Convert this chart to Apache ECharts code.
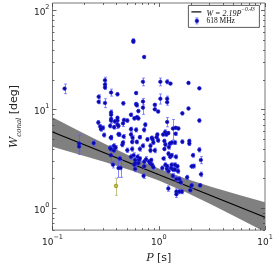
<!DOCTYPE html>
<html><head><meta charset="utf-8">
<script src="https://cdn.jsdelivr.net/npm/echarts@6/dist/echarts.min.js"></script>
<style>html,body{margin:0;padding:0;background:#fff}#c{width:276px;height:269px}</style>
</head><body><div id="c"></div>
<script>
// ---- data: [period, width, error] ----
const pts = [
[0.130,16.2,1.8],[0.178,4.5,1.0],[0.178,4.2,0.4],[0.244,4.55,0.3],
[0.27,7.35,0.35],[0.272,13.4,0.6],[0.272,11.9,0.5],[0.281,6.7,0.3],[0.298,6.5,0.3],[0.286,6.3,0.3],
[0.306,5.5,0.25],[0.312,19.7,1.4],[0.312,17.8,0.8],[0.312,16.6,0.7],[0.312,11.6,1.2],
[0.349,6.8,0.3],[0.349,4.06,0.25],[0.354,5.15,0.25],[0.354,3.97,0.2],[0.354,3.43,0.6],
[0.356,14.8,1.2],[0.356,9.3,0.5],[0.356,8.8,1.0],[0.356,8.0,0.8],[0.356,7.7,0.3],[0.356,5.2,0.25],
[0.371,2.75,0.2],[0.378,4.28,0.2],[0.378,3.84,0.2],[0.38,6.6,0.3],[0.386,7.55,0.35],[0.393,4.1,0.2],
[0.409,14.2,0.5],[0.409,8.2,0.3],[0.409,7.7,0.3],[0.409,7.0,0.6],
[0.418,6.8,0.3],[0.418,5.6,0.25],[0.418,2.55,0.5],[0.426,5.56,0.25],[0.43,3.18,0.2],[0.437,2.55,0.5],
[0.454,4.38,0.2],[0.461,7.2,0.5],[0.461,4.61,0.2],[0.464,11.5,0.45],[0.467,5.3,0.25],[0.47,7.8,0.3],
[0.506,7.7,0.3],[0.506,3.86,0.2],
[0.548,8.8,0.35],[0.548,6.3,0.3],[0.548,5.56,0.25],[0.548,3.31,0.2],
[0.562,4.68,0.2],[0.562,3.97,0.2],[0.567,5.15,0.25],
[0.577,49.6,1.8],[0.577,48.2,1.2],[0.58,3.43,0.2],
[0.59,8.1,0.3],[0.59,2.75,0.15],[0.6,3.07,0.2],[0.6,2.85,0.15],[0.6,2.49,0.15],
[0.612,14.6,0.45],[0.612,11.3,0.45],[0.612,6.2,0.3],[0.621,11.0,0.45],[0.621,8.3,0.35],[0.621,4.68,0.2],
[0.632,3.31,0.2],[0.643,9.6,0.35],[0.643,8.1,0.3],[0.643,2.85,0.12],[0.652,3.07,0.12],
[0.664,5.23,0.2],[0.664,3.97,0.2],[0.664,3.18,0.12],
[0.71,19.0,1.7],[0.71,12.0,0.9],[0.71,10.4,1.5],[0.71,4.28,0.2],
[0.72,2.12,0.12],[0.728,33.8,1.0],[0.728,6.2,0.3],[0.73,2.96,0.12],[0.73,2.65,0.12],
[0.747,7.0,0.3],[0.76,3.13,0.2],[0.783,4.96,0.2],[0.81,2.96,0.12],
[0.83,2.85,0.12],[0.836,4.28,0.2],[0.836,3.84,0.2],[0.85,3.07,0.12],[0.865,2.75,0.12],[0.875,4.96,0.2],
[0.859,5.15,0.2],[0.89,4.61,0.2],[0.89,2.6,0.12],
[0.918,11.1,0.3],[0.918,10.0,0.3],[0.918,3.84,0.2],[0.955,5.23,0.2],[0.97,5.56,0.2],[0.986,9.5,0.3],[0.986,4.85,0.2],
[1.035,19.0,1.7],[1.035,12.8,1.5],
[1.08,2.55,0.12],[1.1,5.56,0.2],[1.11,3.18,0.12],[1.13,4.78,0.2],[1.13,3.97,0.15],[1.148,5.9,0.3],[1.155,4.4,0.2],[1.155,2.75,0.12],[1.18,5.56,0.2],[1.19,2.49,0.12],
[1.2,19.0,0.9],[1.2,12.8,0.8],[1.2,11.8,0.8],[1.2,7.45,0.8],[1.2,2.65,0.12],
[1.23,5.75,0.2],[1.23,1.58,0.1],[1.235,3.56,0.15],[1.235,2.37,0.12],[1.244,4.15,0.2],[1.27,4.51,0.2],[1.28,3.31,0.15],[1.29,18.2,0.4],[1.3,2.55,0.12],
[1.32,4.61,0.2],[1.32,3.43,0.15],[1.32,2.75,0.12],[1.36,6.4,1.5],[1.36,2.46,0.12],[1.36,2.12,0.12],
[1.42,4.61,0.2],[1.42,2.75,0.12],[1.42,2.46,0.12],[1.44,6.5,0.2],[1.44,5.66,0.2],[1.45,3.31,0.15],[1.466,1.97,0.1],[1.466,1.47,0.1],[1.466,1.38,0.1],
[1.5,2.65,0.12],[1.52,2.37,0.12],[1.53,6.4,0.2],[1.56,1.97,0.1],[1.56,1.47,0.07],[1.61,1.83,0.1],[1.65,1.47,0.07],
[1.667,9.1,0.3],[1.667,4.7,0.2],[1.85,2.05,0.1],
[1.905,18.5,0.4],[1.905,10.2,0.3],[1.94,4.78,0.2],[1.94,4.5,0.2],[1.98,1.52,0.07],
[2.04,2.65,0.12],[2.04,1.70,0.1],[2.1,3.43,0.15],[2.13,2.67,0.12],
[2.41,16.3,0.4],[2.41,7.7,0.3],[2.41,3.9,0.2],[2.45,1.70,0.07],[2.49,3.07,0.25],[2.5,2.2,0.12]
];
const periods = pts.map(p => p[0]);
const widths = pts.map(p => p[1]);
const errors = pts.map(p => p[2]);

const oddPeriods = [0.396];
const oddWidths = [1.68];
const oddErrors = [0.33];

const fitPeriods = [0.1, 10];
const fitWidths = [5.90, 0.81];

const bandPeriods = [0.1, 0.178, 0.316, 0.562, 1, 1.78, 3.16, 5.62, 10];
const bandHigh = [8.3, 6.03, 4.43, 3.29, 2.52, 2.0, 1.64, 1.37, 1.15];
const bandLow  = [4.17, 3.49, 2.91, 2.39, 1.90, 1.46, 1.08, 0.79, 0.575];

const xMajorTicks = [0.1, 1, 10];
const xMinorTicks = [0.2,0.3,0.4,0.5,0.6,0.7,0.8,0.9,2,3,4,5,6,7,8,9];
const yMajorTicks = [1, 10, 100];
const yMinorTicks = [0.6,0.7,0.8,0.9,2,3,4,5,6,7,8,9,20,30,40,50,60,70,80,90];

const fitLabel = 'W = 2.19P';
const fitExp = '\u22120.43';
const seriesLabel = '618 MHz';

// ---- chart ----
const chart = echarts.init(document.getElementById('c'), null, {renderer: 'canvas'});

function powLabel(v) {
  const e = Math.log10(v);
  const r = Math.round(e);
  if (Math.abs(e - r) > 1e-6) return '';
  return '{b|10}{s|' + String(r).replace('-', '\u2212') + '}';
}
const labRich = {
  b: {fontFamily: 'DejaVu Sans', fontSize: 9, color: '#222', lineHeight: 13, verticalAlign: 'bottom'},
  s: {fontFamily: 'DejaVu Sans', fontSize: 6.5, color: '#222', lineHeight: 13, verticalAlign: 'top'}
};

const tickData = [];
xMajorTicks.forEach(v => tickData.push([v, 1, 0]));
xMinorTicks.forEach(v => tickData.push([v, 1, 1]));
yMajorTicks.forEach(v => tickData.push([1, v, 2]));
yMinorTicks.forEach(v => tickData.push([1, v, 3]));

const TICK = '#444';
function tickItem(params, api) {
  const cs = params.coordSys;
  const k = api.value(2);
  const len = (k === 0 || k === 2) ? 4 : 2;
  const st = {stroke: TICK, lineWidth: 0.8};
  if (k < 2) {
    const x = Math.round(api.coord([api.value(0), 1])[0]) + 0.5;
    return {type: 'group', children: [
      {type: 'line', shape: {x1: x, y1: cs.y + cs.height, x2: x, y2: cs.y + cs.height - len}, style: st},
      {type: 'line', shape: {x1: x, y1: cs.y, x2: x, y2: cs.y + len}, style: st}
    ]};
  } else {
    const y = Math.round(api.coord([1, api.value(1)])[1]) + 0.5;
    return {type: 'group', children: [
      {type: 'line', shape: {x1: cs.x, y1: y, x2: cs.x + len, y2: y}, style: st},
      {type: 'line', shape: {x1: cs.x + cs.width, y1: y, x2: cs.x + cs.width - len, y2: y}, style: st}
    ]};
  }
}

function bandItem(params, api) {
  const top = bandPeriods.map((p, i) => api.coord([p, bandHigh[i]]));
  const bot = bandPeriods.map((p, i) => api.coord([p, bandLow[i]])).reverse();
  return {type: 'polygon', shape: {points: top.concat(bot)}, style: {fill: '#808080'}};
}

function errItem(color) {
  return function (params, api) {
    const p = api.value(0), w = api.value(1), e = api.value(2);
    const a = api.coord([p, w + e]);
    const b = api.coord([p, w - e]);
    const x = Math.round(a[0]) + 0.5;
    const st = {stroke: color, lineWidth: 1};
    return {type: 'group', children: [
      {type: 'line', shape: {x1: x, y1: a[1], x2: x, y2: b[1]}, style: st},
      {type: 'line', shape: {x1: x - 1.5, y1: a[1], x2: x + 1.5, y2: a[1]}, style: st},
      {type: 'line', shape: {x1: x - 1.5, y1: b[1], x2: x + 1.5, y2: b[1]}, style: st}
    ]};
  };
}

const option = {
  animation: false,
  grid: {left: 33, top: 3, right: 11, bottom: 27, show: true, borderColor: '#777', borderWidth: 1, backgroundColor: 'transparent'},
  xAxis: {
    type: 'log', logBase: 10, min: 0.1, max: 10,
    axisLine: {show: false}, axisTick: {show: false}, splitLine: {show: false},
    axisLabel: {formatter: powLabel, rich: labRich, margin: 4, showMinLabel: true, showMaxLabel: true},
    name: '{i|P} {t|[s]}', nameLocation: 'middle', nameGap: 15,
    nameTextStyle: {rich: {
      i: {fontFamily: 'DejaVu Serif', fontStyle: 'italic', fontSize: 11, color: '#222'},
      t: {fontFamily: 'DejaVu Sans', fontSize: 11, color: '#222'}
    }}
  },
  yAxis: {
    type: 'log', logBase: 10, min: 0.6, max: 119,
    axisLine: {show: false}, axisTick: {show: false}, splitLine: {show: false},
    axisLabel: {formatter: powLabel, rich: labRich, margin: 3, showMinLabel: true, showMaxLabel: true},
    name: '{w|W}{sub|conal} {t|[deg]}', nameLocation: 'middle', nameGap: 22, nameRotate: 90,
    nameTextStyle: {rich: {
      w: {fontFamily: 'DejaVu Serif', fontStyle: 'italic', fontSize: 11, color: '#222', lineHeight: 18, verticalAlign: 'middle'},
      sub: {fontFamily: 'DejaVu Serif', fontStyle: 'italic', fontSize: 7, color: '#222', lineHeight: 18, verticalAlign: 'bottom'},
      t: {fontFamily: 'DejaVu Sans', fontSize: 11, color: '#222', lineHeight: 18, verticalAlign: 'middle'}
    }}
  },
  series: [
    {type: 'custom', clip: true, renderItem: bandItem, data: [[1, 1]], silent: true, z: 1},
    {type: 'line', data: fitPeriods.map((p, i) => [p, fitWidths[i]]), symbol: 'none',
     lineStyle: {color: '#000', width: 1.2}, z: 2, silent: true},
    {type: 'custom', clip: true, renderItem: errItem('rgba(90,90,255,0.7)'),
     data: periods.map((p, i) => [p, widths[i], errors[i]]), z: 3, silent: true},
    {type: 'custom', clip: true, renderItem: errItem('rgba(190,190,120,0.9)'),
     data: oddPeriods.map((p, i) => [p, oddWidths[i], oddErrors[i]]), z: 3, silent: true},
    {type: 'scatter', data: periods.map((p, i) => [p, widths[i]]), symbol: 'circle', symbolSize: 3.6,
     itemStyle: {color: '#0b0b9c', borderColor: '#1818ee', borderWidth: 0.6, opacity: 1}, z: 4, silent: true},
    {type: 'scatter', data: oddPeriods.map((p, i) => [p, oddWidths[i]]), symbol: 'circle', symbolSize: 3.6,
     itemStyle: {color: '#c8c820', borderColor: '#707020', borderWidth: 0.6, opacity: 1}, z: 4, silent: true},
    {type: 'custom', renderItem: tickItem, data: tickData, z: 5, silent: true, clip: false}
  ],
  graphic: [
    {type: 'group', left: 188, top: 5, z: 10, children: [
      {type: 'rect', shape: {x: 0, y: 0, width: 71, height: 22}, style: {fill: '#fff', stroke: '#333', lineWidth: 0.8}},
      {type: 'line', shape: {x1: 3, y1: 6.5, x2: 13, y2: 6.5}, style: {stroke: '#000', lineWidth: 1.2}},
      {type: 'text', x: 18, y: 6.5, style: {
        text: '{m|' + fitLabel + '}{e|' + fitExp + '}', verticalAlign: 'middle',
        rich: {
          m: {fontFamily: 'Liberation Serif', fontStyle: 'italic', fontSize: 8, fill: '#111', lineHeight: 11, verticalAlign: 'bottom'},
          e: {fontFamily: 'Liberation Serif', fontStyle: 'italic', fontSize: 5.5, fill: '#111', lineHeight: 11, verticalAlign: 'top'}
        }}},
      {type: 'line', shape: {x1: 8.5, y1: 12.5, x2: 8.5, y2: 18.5}, style: {stroke: 'rgba(90,90,255,0.7)', lineWidth: 1}},
      {type: 'line', shape: {x1: 7, y1: 12.5, x2: 10, y2: 12.5}, style: {stroke: 'rgba(90,90,255,0.7)', lineWidth: 1}},
      {type: 'line', shape: {x1: 7, y1: 18.5, x2: 10, y2: 18.5}, style: {stroke: 'rgba(90,90,255,0.7)', lineWidth: 1}},
      {type: 'circle', shape: {cx: 8.5, cy: 15.5, r: 1.8}, style: {fill: '#0b0b9c', stroke: '#1818ee', lineWidth: 0.6}},
      {type: 'text', x: 18, y: 15.5, style: {text: seriesLabel, verticalAlign: 'middle',
        fontFamily: 'Liberation Serif', fontSize: 7.5, fill: '#111'}}
    ]}
  ]
};
chart.setOption(option);
</script>
</body></html>
